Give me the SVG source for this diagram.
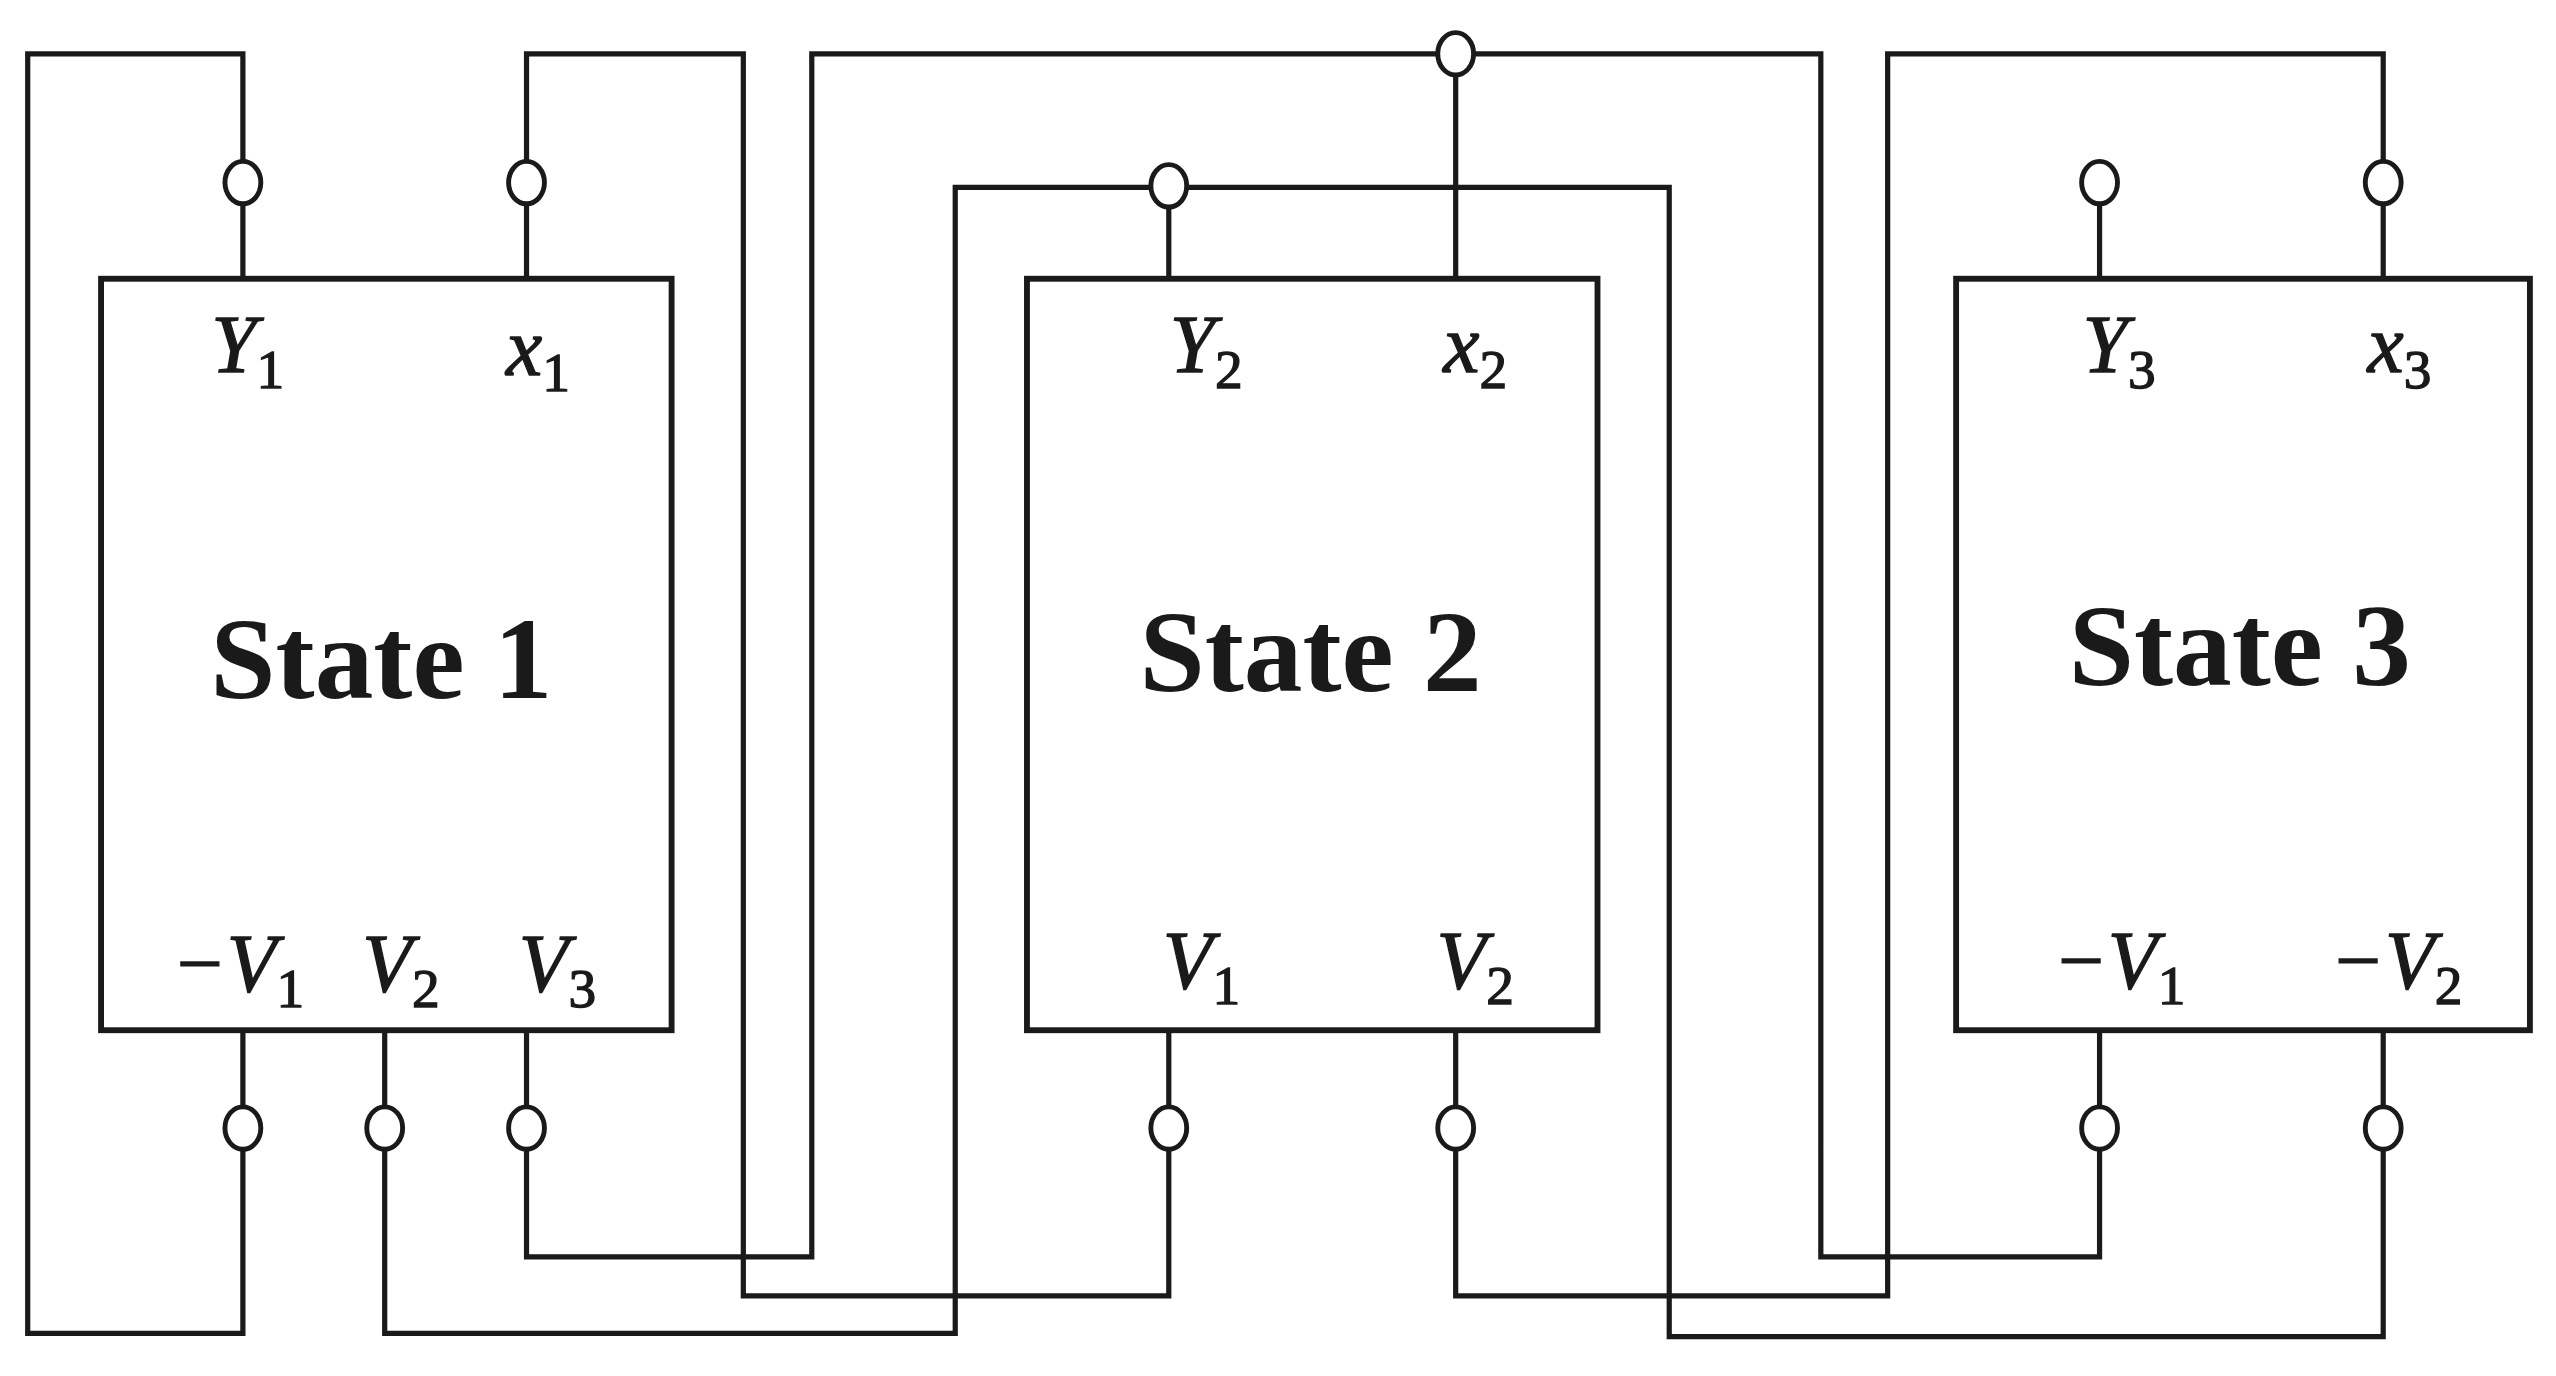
<svg xmlns="http://www.w3.org/2000/svg" width="2556" height="1376" viewBox="0 0 2556 1376">
<style>
.w{fill:none;stroke:#1a1a1a;stroke-width:3.2;stroke-linejoin:miter}
.b{fill:#fff;stroke:#1a1a1a;stroke-width:3.6}
.t{fill:#fff;stroke:#1a1a1a;stroke-width:3}
.m{font-family:"Liberation Serif",serif;font-style:italic;font-size:50px;fill:#1a1a1a;stroke:#1a1a1a;stroke-width:0.8;text-anchor:middle}
.s{font-style:normal;font-size:34px}
.n{font-family:"Liberation Serif",serif;font-weight:bold;font-size:72px;fill:#1a1a1a;text-anchor:middle}
</style>
<rect width="2556" height="1376" fill="#fff"/>
<g transform="scale(1.6301)">
<g id="connectors">
<polyline class="w" points="149,100 149,33 17,33 17,818 149,818 149,705"/>
<polyline class="w" points="323,100 323,33 456,33 456,795 717,795 717,705"/>
<polyline class="w" points="323,632 323,680"/><polyline class="w" points="323,705 323,771 498,771 498,33 1117,33 1117,771 1288,771 1288,705"/>
<polyline class="w" points="236,632 236,680"/><polyline class="w" points="236,705 236,818 586,818 586,115 1024,115 1024,820 1462,820 1462,705"/>
<polyline class="w" points="1462,100 1462,33 1158,33 1158,795 893,795 893,705"/>
<line class="w" x1="149" y1="124" x2="149" y2="171"/>
<line class="w" x1="323" y1="124" x2="323" y2="171"/>
<line class="w" x1="717" y1="127" x2="717" y2="171"/>
<line class="w" x1="893" y1="46" x2="893" y2="171"/>
<line class="w" x1="1288" y1="125" x2="1288" y2="171"/>
<line class="w" x1="1462" y1="124" x2="1462" y2="171"/>
<line class="w" x1="149" y1="632" x2="149" y2="680"/>
<line class="w" x1="717" y1="632" x2="717" y2="680"/>
<line class="w" x1="893" y1="632" x2="893" y2="680"/>
<line class="w" x1="1288" y1="632" x2="1288" y2="680"/>
<line class="w" x1="1462" y1="632" x2="1462" y2="680"/>
</g>
<g id="state1">
<rect class="b" x="62" y="171" width="350" height="461"/>
<text class="n" x="234" y="428">State 1</text>
<text class="m" x="152" y="228">Y<tspan class="s" dy="10">1</tspan></text>
<text class="m" x="330" y="230">x<tspan class="s" dy="10">1</tspan></text>
<text class="m" x="146" y="608">−V<tspan class="s" dy="10">1</tspan></text>
<text class="m" x="246" y="608">V<tspan class="s" dy="10">2</tspan></text>
<text class="m" x="342" y="608">V<tspan class="s" dy="10">3</tspan></text>
<ellipse class="t" cx="149" cy="112" rx="11" ry="13"/>
<ellipse class="t" cx="323" cy="112" rx="11" ry="13"/>
<ellipse class="t" cx="149" cy="692" rx="11" ry="13"/>
<ellipse class="t" cx="236" cy="692" rx="11" ry="13"/>
<ellipse class="t" cx="323" cy="692" rx="11" ry="13"/>
</g>
<g id="state2">
<rect class="b" x="630" y="171" width="350" height="461"/>
<text class="n" x="804" y="424">State 2</text>
<text class="m" x="740" y="228">Y<tspan class="s" dy="10">2</tspan></text>
<text class="m" x="905" y="228">x<tspan class="s" dy="10">2</tspan></text>
<text class="m" x="737" y="606">V<tspan class="s" dy="10">1</tspan></text>
<text class="m" x="905" y="606">V<tspan class="s" dy="10">2</tspan></text>
<ellipse class="t" cx="717" cy="114" rx="11" ry="13"/>
<ellipse class="t" cx="893" cy="33" rx="11" ry="13"/>
<ellipse class="t" cx="717" cy="692" rx="11" ry="13"/>
<ellipse class="t" cx="893" cy="692" rx="11" ry="13"/>
</g>
<g id="state3">
<rect class="b" x="1200" y="171" width="352" height="461"/>
<text class="n" x="1374" y="420">State 3</text>
<text class="m" x="1300" y="228">Y<tspan class="s" dy="10">3</tspan></text>
<text class="m" x="1472" y="228">x<tspan class="s" dy="10">3</tspan></text>
<text class="m" x="1300" y="606">−V<tspan class="s" dy="10">1</tspan></text>
<text class="m" x="1470" y="606">−V<tspan class="s" dy="10">2</tspan></text>
<ellipse class="t" cx="1288" cy="112" rx="11" ry="13"/>
<ellipse class="t" cx="1462" cy="112" rx="11" ry="13"/>
<ellipse class="t" cx="1288" cy="692" rx="11" ry="13"/>
<ellipse class="t" cx="1462" cy="692" rx="11" ry="13"/>
</g>
</g>
</svg>
